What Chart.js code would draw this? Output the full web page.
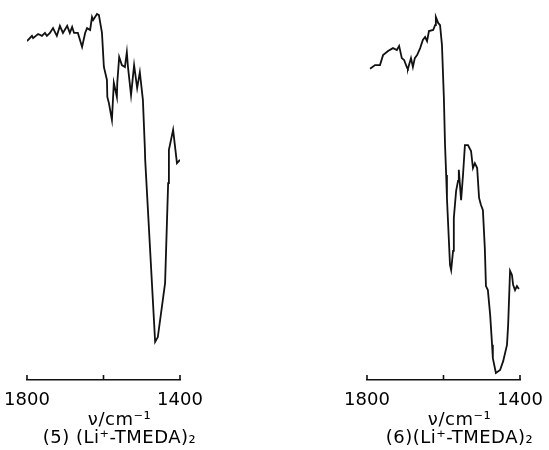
<!DOCTYPE html>
<html>
<head>
<meta charset="utf-8">
<script src="https://cdn.jsdelivr.net/npm/chart.js@4.4.1/dist/chart.umd.min.js"></script>
<style>
  html, body { margin: 0; padding: 0; background: #fff; overflow: hidden; }
  .panel { position: absolute; top: 0; }
</style>
</head>
<body>
<div class="panel" style="left:0"><canvas id="spec5" width="275" height="450"></canvas></div>
<div class="panel" style="left:275px"><canvas id="spec6" width="274" height="450"></canvas></div>
<script>
// tick labels on the wavenumber axis
var xTicks = [1800, 1600, 1400];
var xTickLabels = [1800, 1400];

// spectrum (5) (Li+-TMEDA)2
var wavenumber5 = [1800, 1787, 1784, 1771, 1761, 1753, 1748, 1740, 1732, 1722, 1714, 1706, 1695, 1688, 1682, 1677,
    1667, 1656, 1648, 1643, 1635, 1630, 1627, 1617, 1612, 1604, 1599, 1591, 1590, 1586, 1578, 1573, 1565, 1564,
    1559, 1552, 1544, 1539, 1536, 1528, 1520, 1512, 1505, 1497, 1492, 1491, 1465, 1458, 1439, 1431, 1429, 1418,
    1408, 1400];
var transmit5 = [91.6, 93.0, 92.4, 93.5, 93.0, 93.8, 93.0, 93.8, 95.1, 93.0, 95.7, 93.8, 95.7, 93.8, 95.4, 93.8,
    93.8, 90.0, 93.8, 95.1, 94.6, 98.1, 97.3, 98.9, 98.6, 93.8, 84.6, 81.1, 76.5, 74.9, 70.3, 80.3, 76.5, 80.3,
    87.3, 85.1, 84.6, 88.6, 84.6, 77.0, 85.1, 78.9, 83.2, 75.7, 63.0, 59.5, 10.3, 11.6, 26.2, 53.2, 62.2, 67.6,
    58.6, 59.5];

// spectrum (6) (Li+-TMEDA)2
var wavenumber6 = [1792, 1779, 1766, 1758, 1745, 1732, 1722, 1716, 1709, 1703, 1695, 1693, 1685, 1680, 1675, 1669,
    1661, 1654, 1648, 1643, 1638, 1627, 1622, 1620, 1614, 1609, 1604, 1599, 1596, 1593, 1591, 1583, 1580, 1575,
    1573, 1567, 1562, 1560, 1554, 1549, 1544, 1536, 1528, 1523, 1518, 1512, 1507, 1502, 1497, 1492, 1489, 1484,
    1478, 1473, 1471, 1463, 1452, 1444, 1434, 1431, 1426, 1421, 1418, 1413, 1408, 1403];
var transmit6 = [84.1, 85.1, 85.1, 87.8, 88.9, 89.7, 89.2, 90.3, 87.0, 86.5, 84.3, 84.1, 87.0, 84.6, 87.0, 87.8,
    89.7, 91.9, 92.7, 91.6, 94.3, 94.6, 95.9, 98.1, 96.5, 95.9, 90.5, 76.2, 63.5, 55.4, 49.2, 31.1, 29.7, 34.9,
    43.8, 51.1, 53.8, 56.8, 48.6, 55.4, 63.5, 63.5, 61.9, 57.3, 58.6, 57.3, 49.2, 47.3, 45.9, 35.7, 25.4, 24.3,
    17.6, 9.5, 5.9, 1.9, 2.7, 5.1, 9.5, 14.9, 29.5, 28.4, 25.7, 24.3, 25.4, 24.6];

var fontFamily = "'DejaVu Sans', sans-serif";

// tick marks stand up from the axis line
var upTicks = {
    id: 'upTicks',
    afterDraw: function (chart) {
        var ctx = chart.ctx;
        var xs = chart.scales.x;
        var yb = chart.chartArea.bottom;
        ctx.save();
        ctx.strokeStyle = '#111';
        ctx.lineWidth = 1.6;
        xTicks.forEach(function (v) {
            var px = xs.getPixelForValue(v);
            ctx.beginPath();
            ctx.moveTo(px, yb);
            ctx.lineTo(px, yb - 5);
            ctx.stroke();
        });
        ctx.restore();
    }
};

// axis title and compound caption, set a little right of the axis centre like the original
var captions = {
    id: 'captions',
    afterDraw: function (chart, args, opts) {
        var ctx = chart.ctx;
        var ca = chart.chartArea;
        var cx = (ca.left + ca.right) / 2 + 16;
        ctx.save();
        ctx.fillStyle = '#000';
        ctx.textAlign = 'center';
        ctx.textBaseline = 'alphabetic';
        ctx.font = '18px ' + fontFamily;
        ctx.letterSpacing = '0.5px';
        ctx.fillText(opts.axisTitle, cx, ca.bottom + 45);
        ctx.fillText(opts.caption, cx, ca.bottom + 63);
        ctx.restore();
    }
};

function makeSpectrum(canvasId, wn, tr, caption, pad) {
    var points = wn.map(function (w, i) { return { x: w, y: tr[i] }; });
    new Chart(document.getElementById(canvasId).getContext('2d'), {
        type: 'line',
        data: {
            datasets: [{
                data: points,
                borderColor: '#111',
                borderWidth: 1.8,
                pointRadius: 0,
                tension: 0,
                fill: false
            }]
        },
        options: {
            responsive: false,
            animation: false,
            layout: {
                padding: { left: pad.left, right: pad.right, top: 10, bottom: 30 }
            },
            plugins: {
                legend: { display: false },
                tooltip: { enabled: false },
                captions: { axisTitle: 'ν/cm⁻¹', caption: caption }
            },
            scales: {
                x: {
                    type: 'linear',
                    reverse: true,
                    min: 1400,
                    max: 1800,
                    afterBuildTicks: function (scale) {
                        scale.ticks = xTicks.map(function (v) { return { value: v }; });
                    },
                    grid: { display: false, drawTicks: false },
                    border: { display: true, color: '#111', width: 1.6 },
                    ticks: {
                        autoSkip: false,
                        maxRotation: 0,
                        padding: 2,
                        color: '#000',
                        font: { family: fontFamily, size: 18, lineHeight: 2.0 },
                        callback: function (v) {
                            return xTickLabels.indexOf(v) >= 0 ? String(v) : '';
                        }
                    }
                },
                y: {
                    display: false,
                    min: 0,
                    max: 100
                }
            }
        },
        plugins: [upTicks, captions]
    });
}

makeSpectrum('spec5', wavenumber5, transmit5, '(5) (Li⁺-TMEDA)₂', { left: 27, right: 95 });
makeSpectrum('spec6', wavenumber6, transmit6, '(6)(Li⁺-TMEDA)₂', { left: 92, right: 29 });
</script>
</body>
</html>
